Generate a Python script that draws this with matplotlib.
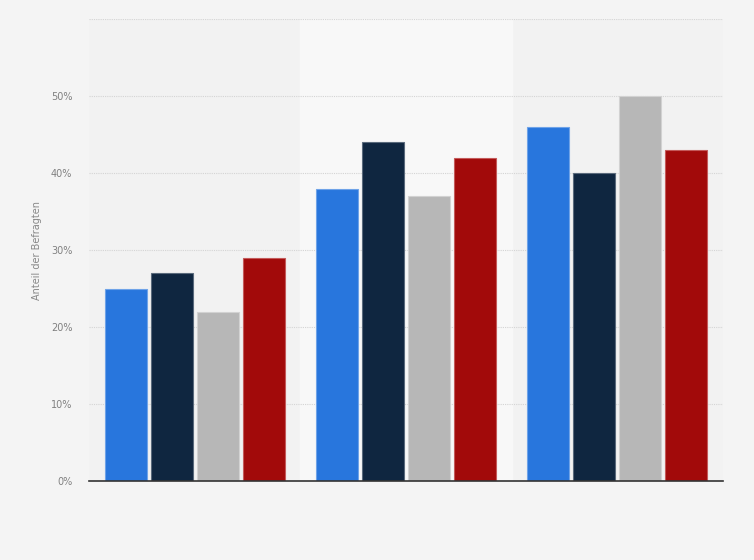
import numpy as np
import matplotlib.pyplot as plt

groups = ["", "", ""]
series_a = [25, 38, 46]
series_b = [27, 44, 40]
series_c = [22, 37, 50]
series_d = [29, 42, 43]
colors = ["#2876dd", "#0f2640", "#b7b7b7", "#a20a0a"]
edges = ["#6fa3e8", "#5a6a7c", "#d2d2d2", "#c45a5a"]
yticks = [0, 10, 20, 30, 40, 50, 60]
ytick_labels = ["0%", "10%", "20%", "30%", "40%", "50%", ""]

fig = plt.figure(figsize=(7.54, 5.6), dpi=100)
fig.patch.set_facecolor("#f4f4f4")
ax = fig.add_axes([89 / 754, 1 - 481 / 560, 634 / 754, (481 - 19.2) / 560])
ax.set_facecolor("#f2f2f2")

x = np.arange(len(groups))
# lighter band behind the middle group
ax.axvspan(0.5, 1.5, color="#f8f8f8", zorder=0)

width = 0.199
step = 0.2177
for i, vals in enumerate([series_a, series_b, series_c, series_d]):
    ax.bar(x + (i - 1.5) * step, vals, width, color=colors[i],
           edgecolor=edges[i], linewidth=0.8, zorder=3)

ax.set_xlim(-0.5, 2.5)
ax.set_ylim(0, 60)
ax.set_yticks(yticks)
ax.set_yticklabels(ytick_labels)
ax.set_xticks([])
ax.grid(axis="y", color="#d4d4d4", linestyle=(0, (1, 1)), linewidth=0.8, zorder=1)
for s in ["top", "right", "left"]:
    ax.spines[s].set_visible(False)
ax.spines["bottom"].set_color("#333333")
ax.spines["bottom"].set_linewidth(1.2)
ax.spines["bottom"].set_zorder(4)
ax.tick_params(axis="y", length=0, pad=12, labelsize=7, labelcolor="#808080")
ax.set_ylabel("Anteil der Befragten", fontsize=7, color="#888888", labelpad=6)

fig.savefig("out.png", dpi=100, facecolor=fig.get_facecolor())
